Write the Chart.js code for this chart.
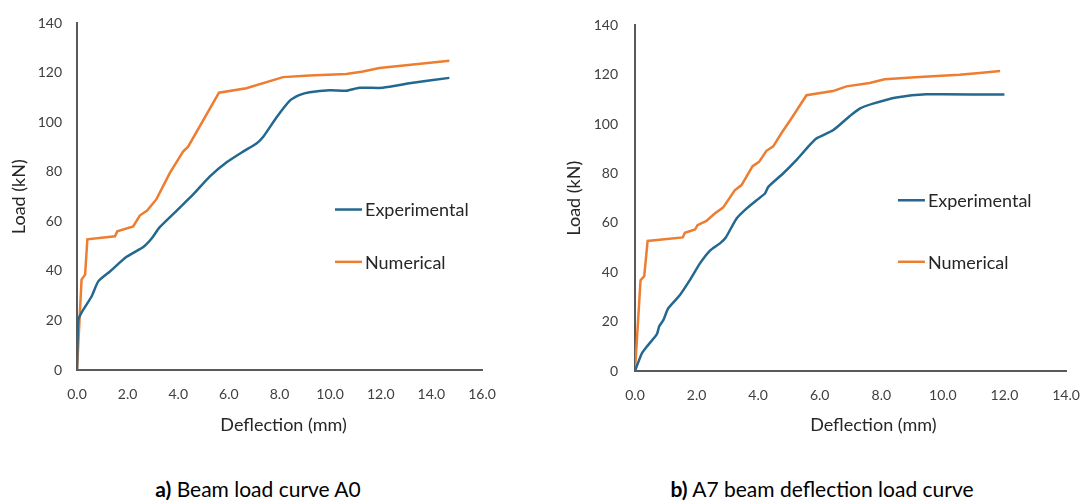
<!DOCTYPE html>
<html>
<head>
<meta charset="utf-8">
<script src="https://cdn.jsdelivr.net/npm/chart.js@4"></script>
<style>
  body { margin: 0; background: #fff; width: 1085px; height: 504px; position: relative; overflow: hidden; font-family: Lato, sans-serif; }
  .box { position: absolute; top: 0; height: 440px; }
  #boxA { left: 0; width: 540px; }
  #boxB { left: 540px; width: 545px; }
  .cap { position: absolute; top: 476px; font-size: 21px; line-height: 25px; color: #000; white-space: nowrap; transform: translateX(-50%); }
</style>
</head>
<body>
<div class="box" id="boxA"><canvas id="chartA"></canvas></div>
<div class="box" id="boxB"><canvas id="chartB"></canvas></div>
<div class="cap" style="left:258px"><b>a)</b> Beam load curve A0</div>
<div class="cap" style="left:822px"><b>b)</b> A7 beam deflection load curve</div>
<script>
// beam A0
const expA_x = [0, 0.05, 0.18, 0.58, 0.84, 1.3, 1.96, 2.62, 2.94, 3.27, 3.93, 4.59, 5.25, 5.9, 6.56, 7.09, 7.35, 7.88, 8.4, 8.8, 9.19, 9.98, 10.64, 11.16, 12.08, 13.27, 14.71];
const expA_y = [0, 20, 23.2, 29.8, 35.8, 39.8, 45.7, 49.7, 53, 57.7, 64.3, 70.9, 78.2, 83.8, 88.2, 91.5, 94.1, 102, 108.7, 111.1, 112.2, 113, 112.8, 114, 114, 116, 118];
const numA_x = [0, 0.18, 0.32, 0.41, 1.5, 1.59, 2.22, 2.48, 2.77, 3.14, 3.67, 4.19, 4.39, 5.61, 6.69, 8.14, 9.19, 10.64, 11.3, 11.95, 14.71];
const numA_y = [0, 36.5, 38.5, 52.8, 54, 56, 58, 62.4, 64.4, 69, 79.6, 88.2, 90.2, 112, 113.8, 118.3, 119, 119.6, 120.6, 122, 124.9];

// beam A7
const expB_x = [0, 0.22, 0.38, 0.65, 0.72, 0.79, 0.92, 1.08, 1.46, 1.78, 2.11, 2.43, 2.76, 2.95, 3.3, 3.62, 3.95, 4.22, 4.33, 4.81, 5.24, 5.57, 5.89, 6.43, 6.97, 7.3, 7.73, 8.49, 9.46, 12.0];
const expB_y = [0, 7.1, 9.8, 13.9, 15.2, 18.2, 20.6, 25.4, 30.8, 36.8, 43.6, 48.7, 51.7, 54.1, 61.8, 65.8, 69.2, 71.9, 74.6, 80, 85.4, 90.1, 94.2, 97.5, 103.2, 106.3, 108.3, 110.8, 112.1, 112];
const numB_x = [0, 0.18, 0.30, 0.41, 1.55, 1.62, 1.95, 2.03, 2.32, 2.59, 2.86, 3.24, 3.46, 3.82, 4.03, 4.27, 4.49, 4.76, 5.08, 5.57, 6.43, 6.87, 7.62, 8.11, 9.24, 10.54, 11.19, 11.86];
const numB_y = [0, 36.8, 38.4, 52.7, 54.1, 56, 57.3, 59.1, 60.8, 63.8, 66.2, 73.2, 75.3, 83, 84.7, 89.2, 91, 96.4, 102.3, 111.7, 113.4, 115.3, 116.7, 118.2, 119.1, 120, 120.7, 121.5];

const seriesNames = ['Experimental', 'Numerical'];
const blue = '#22688f';
const orange = '#ed7d31';
const txt = '#404040';

function pts(xs, ys) {
    return xs.map((x, i) => ({ x: x, y: ys[i] }));
}

// legend inside the plot + x title drawn at a chosen spot
const extras = {
    id: 'extras',
    afterDraw(chart, args, opts) {
        const ctx = chart.ctx;
        const a = chart.chartArea;
        ctx.save();
        ctx.font = '18px Lato';
        ctx.textBaseline = 'middle';
        chart.data.datasets.forEach((ds, i) => {
            const x = a.left + opts.legX * (a.right - a.left);
            const y = a.top + opts.legY[i] * (a.bottom - a.top);
            ctx.strokeStyle = ds.borderColor;
            ctx.lineWidth = 2.5;
            ctx.beginPath();
            ctx.moveTo(x, y);
            ctx.lineTo(x + 27, y);
            ctx.stroke();
            ctx.fillStyle = '#262626';
            ctx.textAlign = 'left';
            ctx.fillText(ds.label, x + 30, y + 1);
        });
        ctx.textAlign = 'center';
        ctx.fillStyle = '#262626';
        ctx.fillText('Deflection (mm)', a.left + opts.titleX * (a.right - a.left), opts.titleY);
        ctx.restore();
    }
};

function makeChart(id, exp, num, xmax, o) {
    return new Chart(document.getElementById(id), {
        type: 'scatter',
        data: {
            datasets: [
                {
                    label: seriesNames[0],
                    data: exp,
                    showLine: true,
                    borderColor: blue,
                    borderWidth: 2.5,
                    pointRadius: 0,
                    tension: 0.2,
                },
                {
                    label: seriesNames[1],
                    data: num,
                    showLine: true,
                    borderColor: orange,
                    borderWidth: 2.5,
                    pointRadius: 0,
                    tension: 0,
                }
            ]
        },
        options: {
            responsive: true,
            maintainAspectRatio: false,
            animation: false,
            layout: { padding: { left: 0, top: o.top, right: o.right, bottom: 0 } },
            plugins: {
                legend: { display: false },
                tooltip: { enabled: false },
                extras: { legX: o.legX, legY: o.legY, titleX: o.titleX, titleY: 425 }
            },
            scales: {
                x: {
                    type: 'linear',
                    min: 0,
                    max: xmax,
                    grid: { display: false, drawTicks: false },
                    border: { color: '#595959', width: 2 },
                    ticks: {
                        stepSize: 2,
                        padding: 16,
                        color: txt,
                        font: { family: 'Lato', size: 14 },
                        callback: v => v.toFixed(1)
                    },
                    afterFit: s => { s.height = 440 - o.bottom; s.paddingRight = 0; }
                },
                y: {
                    min: 0,
                    max: 140,
                    grid: { display: false, drawTicks: false },
                    border: { color: '#595959', width: 2 },
                    ticks: {
                        stepSize: 20,
                        padding: o.ytp,
                        color: txt,
                        font: { family: 'Lato', size: 14 }
                    },
                    title: {
                        display: true,
                        text: 'Load (kN)',
                        color: '#262626',
                        font: { family: 'Lato', size: 18 },
                        padding: { top: o.ytitle, bottom: 0 }
                    },
                    afterFit: s => { s.width = o.left; }
                }
            }
        },
        plugins: [extras]
    });
}

makeChart('chartA', pts(expA_x, expA_y), pts(numA_x, numA_y), 16,
    { left: 77, right: 58, top: 18, bottom: 370, ytp: 15, ytitle: 8, legX: 0.637, legY: [0.537, 0.688], titleX: 0.51 });
makeChart('chartB', pts(expB_x, expB_y), pts(numB_x, numB_y), 14,
    { left: 95, right: 19, top: 25, bottom: 371, ytp: 17, ytitle: 23, legX: 0.61, legY: [0.506, 0.684], titleX: 0.553 });
</script>
</body>
</html>
